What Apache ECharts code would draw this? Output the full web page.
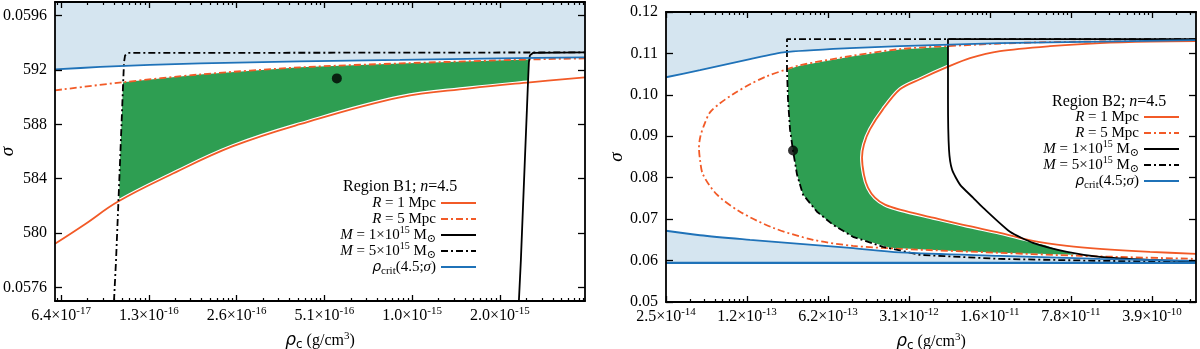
<!DOCTYPE html>
<html><head><meta charset="utf-8">
<script src="https://cdn.jsdelivr.net/npm/echarts@6/dist/echarts.min.js"></script>
<style>html,body{margin:0;padding:0;background:#fff}#c{width:1200px;height:349px}</style>
</head><body><div id="c"></div>
<script>
// ================= Panel B1 (left) =================
const b1XRange = [6.10e-17, 4.01e-15];
const b1YRange = [0.0575, 0.0597];
const b1XTickValues = [6.4e-17, 1.28e-16, 2.56e-16, 5.12e-16, 1.024e-15, 2.048e-15];
const b1XTickLabels = ['6.4×10{sup|-17}', '1.3×10{sup|-16}', '2.6×10{sup|-16}', '5.1×10{sup|-16}', '1.0×10{sup|-15}', '2.0×10{sup|-15}'];
const b1YTickValues = [0.0576, 0.0580, 0.0584, 0.0588, 0.0592, 0.0596];
const b1YTickLabels = ['0.0576', '580', '584', '588', '592', '0.0596'];

const b1CritRho   = [6.10e-17, 8.71e-17, 1.29e-16, 1.92e-16, 4.22e-16, 9.30e-16, 2.05e-15, 4.01e-15];
const b1CritSigma = [0.059204, 0.059222, 0.059237, 0.059248, 0.059263, 0.059274, 0.059285, 0.059292];

const b1R5Rho   = [6.10e-17, 1.036e-16, 1.92e-16, 4.22e-16, 9.30e-16, 2.595e-15, 4.01e-15];
const b1R5Sigma = [0.059050, 0.059109, 0.059167, 0.059219, 0.059248, 0.059277, 0.059285];

const b1R1Rho   = [6.10e-17, 7.73e-17, 1.004e-16, 1.513e-16, 2.488e-16, 4.22e-16, 9.30e-16, 1.616e-15, 2.595e-15, 4.01e-15];
const b1R1Sigma = [0.057921, 0.058065, 0.058232, 0.058427, 0.058639, 0.058801, 0.058999, 0.059065, 0.059109, 0.059145];

const b1M5Rho   = [9.72e-17, 9.88e-17, 1.004e-16, 1.020e-16, 1.036e-16, 1.044e-16, 1.052e-16, 1.061e-16, 1.086e-16, 4.01e-15];
const b1M5Sigma = [0.05750, 0.057803, 0.058170, 0.058537, 0.058903, 0.059087, 0.059255, 0.059307, 0.059325, 0.059329];

const b1M1Rho   = [2.379e-15, 2.417e-15, 2.455e-15, 2.494e-15, 2.534e-15, 2.554e-15, 2.574e-15, 2.595e-15, 2.657e-15, 4.01e-15];
const b1M1Sigma = [0.05750, 0.057803, 0.058170, 0.058537, 0.058903, 0.059087, 0.059255, 0.059307, 0.059325, 0.059329];

const b1GreenRho   = [1.044e-16, 1.917e-16, 4.222e-16, 9.298e-16, 2.574e-15, 2.554e-15, 1.616e-15, 9.298e-16, 4.222e-16, 2.488e-16, 1.513e-16, 1.012e-16, 1.020e-16, 1.036e-16];
const b1GreenSigma = [0.059109, 0.059167, 0.059219, 0.059248, 0.059277, 0.059109, 0.059065, 0.058999, 0.058801, 0.058639, 0.058427, 0.058243, 0.058537, 0.058903];

const b1PointRho = [5.65e-16];
const b1PointSigma = [0.059138];

// ================= Panel B2 (right) =================
const b2XRange = [2.5e-14, 9.37e-10];
const b2YRange = [0.05, 0.12];
const b2XTickValues = [2.5e-14, 1.25e-13, 6.25e-13, 3.125e-12, 1.5625e-11, 7.8125e-11, 3.90625e-10];
const b2XTickLabels = ['2.5×10{sup|-14}', '1.2×10{sup|-13}', '6.2×10{sup|-13}', '3.1×10{sup|-12}', '1.6×10{sup|-11}', '7.8×10{sup|-11}', '3.9×10{sup|-10}'];
const b2YTickValues = [0.05, 0.06, 0.07, 0.08, 0.09, 0.10, 0.11, 0.12];
const b2YTickLabels = ['0.05', '0.06', '0.07', '0.08', '0.09', '0.10', '0.11', '0.12'];

const b2CritUpperRho   = [2.5e-14, 4.91e-14, 1.327e-13, 2.66e-13, 9.68e-13, 2.61e-12, 1.91e-11, 1.39e-10, 9.37e-10];
const b2CritUpperSigma = [0.10425, 0.10595, 0.10861, 0.11031, 0.11128, 0.11176, 0.11249, 0.11285, 0.11322];

const b2CritLowerRho   = [2.5e-14, 4.91e-14, 1.327e-13, 3.58e-13, 9.68e-13, 2.61e-12, 1.91e-11, 1.39e-10, 9.37e-10];
const b2CritLowerSigma = [0.06720, 0.06611, 0.06502, 0.06405, 0.06308, 0.06199, 0.06114, 0.06041, 0.05993];

const b2CritFloorRho   = [2.5e-14, 9.37e-10];
const b2CritFloorSigma = [0.05945, 0.05945];

const b2R5Rho   = [9.37e-10, 5.15e-11, 1.907e-11, 6.65e-12, 2.614e-12, 9.68e-13, 3.584e-13, 2.767e-13, 1.861e-13, 1.327e-13, 9.465e-14, 7.31e-14, 5.992e-14, 5.36e-14, 4.95e-14, 4.815e-14, 4.912e-14, 5.215e-14, 6.887e-14, 1.0875e-13, 2.096e-13, 4.64e-13, 1.0273e-12, 2.614e-12, 1.907e-11, 9.347e-11, 9.37e-10];
const b2R5Sigma = [0.11310, 0.11273, 0.11237, 0.11176, 0.11104, 0.10934, 0.10716, 0.10619, 0.10450, 0.10256, 0.10014, 0.09796, 0.09578, 0.09287, 0.08996, 0.08730, 0.08439, 0.08076, 0.07592, 0.07180, 0.06792, 0.06502, 0.06356, 0.06284, 0.06187, 0.06114, 0.06041];

const b2R1Rho   = [9.37e-10, 3.756e-10, 1.39e-10, 5.15e-11, 1.907e-11, 1.0505e-11, 6.65e-12, 3.89e-12, 2.614e-12, 1.865e-12, 1.44e-12, 1.278e-12, 1.229e-12, 1.278e-12, 1.384e-12, 1.59e-12, 1.94e-12, 2.614e-12, 5.036e-12, 9.897e-12, 1.907e-11, 3.674e-11, 7.219e-11, 1.39e-10, 3.756e-10, 9.37e-10];
const b2R1Sigma = [0.11297, 0.11285, 0.11249, 0.11176, 0.11055, 0.10886, 0.10668, 0.10377, 0.10135, 0.09650, 0.09166, 0.08803, 0.08488, 0.08076, 0.07761, 0.07519, 0.07349, 0.07228, 0.07035, 0.06841, 0.06671, 0.06477, 0.06356, 0.06284, 0.06211, 0.06163];

const b2M5Rho   = [9.37e-10, 2.767e-13, 2.767e-13, 2.822e-13, 2.938e-13, 3.118e-13, 3.377e-13, 3.803e-13, 5.023e-13, 6.903e-13, 1.0273e-12, 1.865e-12, 3.89e-12, 1.907e-11, 1.39e-10, 9.37e-10];
const b2M5Sigma = [0.11346, 0.11346, 0.10619, 0.09893, 0.09166, 0.08657, 0.08076, 0.07592, 0.07180, 0.06865, 0.06574, 0.06332, 0.06138, 0.06041, 0.05993, 0.05969];

const b2M1Rho   = [9.37e-10, 6.783e-12, 6.783e-12, 6.92e-12, 7.35e-12, 8.61e-12, 1.115e-11, 1.36e-11, 2.326e-11, 3.674e-11, 7.219e-11, 1.39e-10, 3.756e-10, 9.37e-10];
const b2M1Sigma = [0.11346, 0.11346, 0.09893, 0.08682, 0.08197, 0.07834, 0.07519, 0.07277, 0.06695, 0.06429, 0.06211, 0.06090, 0.06017, 0.05981];

const b2GreenRho   = [2.822e-13, 3.584e-13, 9.678e-13, 2.614e-12, 6.65e-12, 6.783e-12, 6.783e-12, 3.89e-12, 2.614e-12, 1.865e-12, 1.44e-12, 1.278e-12, 1.229e-12, 1.278e-12, 1.384e-12, 1.59e-12, 1.94e-12, 2.614e-12, 5.036e-12, 9.897e-12, 1.907e-11, 3.674e-11, 5.689e-11, 8.464e-11, 1.907e-11, 7.059e-12, 2.143e-12, 1.0273e-12, 6.903e-13, 5.023e-13, 3.803e-13, 3.377e-13, 3.118e-13, 2.938e-13, 2.822e-13];
const b2GreenSigma = [0.10619, 0.10704, 0.10922, 0.11092, 0.11164, 0.11164, 0.10668, 0.10377, 0.10135, 0.09650, 0.09166, 0.08803, 0.08488, 0.08076, 0.07761, 0.07519, 0.07349, 0.07228, 0.07035, 0.06841, 0.06671, 0.06477, 0.06284, 0.06138, 0.06187, 0.06235, 0.06308, 0.06574, 0.06865, 0.07180, 0.07592, 0.08076, 0.08657, 0.09166, 0.09893];

const b2PointRho = [3.12e-13];
const b2PointSigma = [0.08657];

// ================= legend =================
const legendNames = ['R1', 'R5', 'M1', 'M5', 'crit'];
const legendLabels = {
  R1: '{i|R} = 1 Mpc',
  R5: '{i|R} = 5 Mpc',
  M1: '{i|M} = 1×10{sup|15} M{sub|⊙}',
  M5: '{i|M} = 5×10{sup|15} M{sub|⊙}',
  crit: '{g|ρ}{sub|crit}(4.5;{i|σ})'
};
const panelTitles = ['{t|Region B1; }{i|n}{t|=4.5}', '{t|Region B2; }{i|n}{t|=4.5}'];

// ================= styling =================
const F = "'Liberation Serif', 'DejaVu Serif', serif";
const RED = '#f25a27', BLUE = '#1f72b8', BLUEFILL = '#d5e5f0', GREEN = '#2e9e52', BLACK = '#000';
const DASHDOT = [7, 3, 2, 3];

const L = Math.log10;
const zip = (r, s) => r.map((v, i) => [L(v), s[i]]);

function minorTicks(majLog, min, max) {
  const fr = [2, 3, 4, 5, 6, 7, 8, 9].map(n => Math.log10(n));
  const step = majLog[1] - majLog[0];
  const out = [];
  for (let k = -2; k < majLog.length + 1; k++) {
    const base = majLog[0] + k * step;
    fr.forEach(f => { const v = base + f * step; if (v > min && v < max) out.push(v); });
  }
  return out;
}

const supRich = {
  sup: { fontSize: 11, fontFamily: F, color: '#000', verticalAlign: 'top', lineHeight: 10 }
};

function buildAxes(g, xr, yr, xt, xl, yt, yl, yNameGap) {
  const xmin = L(xr[0]), xmax = L(xr[1]);
  const xtl = xt.map(L);
  const minors = minorTicks(xtl, xmin, xmax);
  const axLine = { show: true, onZero: false, lineStyle: { color: BLACK, width: 1.8 } };
  const common = { gridIndex: g, type: 'value', min: xmin, max: xmax, splitLine: { show: false }, z: 10 };
  const xAxes = [
    Object.assign({}, common, {
      position: 'bottom', axisLine: axLine,
      axisTick: { show: true, inside: true, length: 6, lineStyle: { color: BLACK, width: 1.3 }, customValues: xtl },
      axisLabel: {
        show: true, customValues: xtl, margin: 5, fontSize: 16, lineHeight: 20, fontFamily: F, color: '#000',
        rich: supRich,
        formatter: v => { const i = xtl.findIndex(t => Math.abs(t - v) < 1e-7); return i >= 0 ? xl[i] : ''; }
      },
      name: '{g|ρ}{sub|c} (g/cm{sup|3})', nameLocation: 'middle', nameGap: 30, nameMoveOverlap: false,
      nameTextStyle: {
        fontSize: 16, fontFamily: F, color: '#000', lineHeight: 20,
        rich: {
          g: { fontFamily: "'DejaVu Sans'", fontStyle: 'italic', fontSize: 17 },
          sub: { fontSize: 12, fontFamily: "'DejaVu Sans'", verticalAlign: 'bottom', lineHeight: 12 },
          sup: { fontSize: 11, fontFamily: F, verticalAlign: 'top', lineHeight: 10 }
        }
      }
    }),
    Object.assign({}, common, {
      position: 'bottom', axisLine: { show: false },
      axisTick: { show: true, inside: true, length: 3, lineStyle: { color: BLACK, width: 1.2 }, customValues: minors },
      axisLabel: { show: false }
    }),
    Object.assign({}, common, {
      position: 'top', axisLine: axLine,
      axisTick: { show: true, inside: true, length: 6, lineStyle: { color: BLACK, width: 1.3 }, customValues: xtl },
      axisLabel: { show: false }
    }),
    Object.assign({}, common, {
      position: 'top', axisLine: { show: false },
      axisTick: { show: true, inside: true, length: 3, lineStyle: { color: BLACK, width: 1.2 }, customValues: minors },
      axisLabel: { show: false }
    })
  ];
  const ycommon = { gridIndex: g, type: 'value', min: yr[0], max: yr[1], splitLine: { show: false }, z: 10 };
  const yAxes = [
    Object.assign({}, ycommon, {
      position: 'left', axisLine: axLine,
      axisTick: { show: true, inside: true, length: 7, lineStyle: { color: BLACK, width: 1.3 }, customValues: yt },
      axisLabel: {
        show: true, customValues: yt, margin: 8, fontSize: 16, fontFamily: F, color: '#000',
        formatter: v => { const i = yt.findIndex(t => Math.abs(t - v) < 1e-9); return i >= 0 ? yl[i] : ''; }
      },
      name: 'σ', nameLocation: 'middle', nameGap: yNameGap, nameRotate: 90, nameMoveOverlap: false,
      nameTextStyle: { fontSize: 19, fontFamily: F, fontStyle: 'italic', color: '#000' }
    }),
    Object.assign({}, ycommon, {
      position: 'right', axisLine: axLine,
      axisTick: { show: true, inside: true, length: 7, lineStyle: { color: BLACK, width: 1.3 }, customValues: yt },
      axisLabel: { show: false }
    })
  ];
  return { xAxes, yAxes };
}

function poly(g, pts, color) {
  return {
    type: 'custom', xAxisIndex: 4 * g, yAxisIndex: 2 * g, silent: true, z: 1, clip: true,
    data: pts,
    renderItem: (params, api) => {
      if (params.dataIndex !== 0) return null;
      return { type: 'polygon', shape: { points: pts.map(p => api.coord(p)) }, style: { fill: color, stroke: null } };
    }
  };
}
function line(name, g, data, color, width, dash, z, smooth) {
  return {
    type: 'line', name, xAxisIndex: 4 * g, yAxisIndex: 2 * g, data, symbol: 'none', showSymbol: false,
    smooth: smooth || false, clip: true, silent: true, z,
    lineStyle: { color, width, type: dash || 'solid' }, itemStyle: { color }
  };
}

const axesB1 = buildAxes(0, b1XRange, b1YRange, b1XTickValues, b1XTickLabels, b1YTickValues, b1YTickLabels, 38);
const axesB2 = buildAxes(1, b2XRange, b2YRange, b2XTickValues, b2XTickLabels, b2YTickValues, b2YTickLabels, 40);

// polygons
const b1Crit = zip(b1CritRho, b1CritSigma);
const b1BlueFill = b1Crit.concat([[L(b1XRange[1]), b1YRange[1]], [L(b1XRange[0]), b1YRange[1]]]);
const b2CritU = zip(b2CritUpperRho, b2CritUpperSigma);
const b2BlueTop = b2CritU.concat([[L(b2XRange[1]), b2YRange[1]], [L(b2XRange[0]), b2YRange[1]]]);
const b2CritL = zip(b2CritLowerRho, b2CritLowerSigma);
const b2Floor = zip(b2CritFloorRho, b2CritFloorSigma);
const b2BlueBottom = b2CritL.concat(b2Floor.slice().reverse());

const series = [
  // ---- B1 ----
  poly(0, b1BlueFill, BLUEFILL),
  poly(0, zip(b1GreenRho, b1GreenSigma), GREEN),
  line('haloR1a', 0, zip(b1R1Rho, b1R1Sigma), '#fff', 4, 'solid', 2, 0.4),
  line('R1', 0, zip(b1R1Rho, b1R1Sigma), RED, 1.8, 'solid', 3, 0.4),
  line('R5', 0, zip(b1R5Rho, b1R5Sigma), RED, 1.8, DASHDOT, 3, 0.3),
  line('M5', 0, zip(b1M5Rho, b1M5Sigma), BLACK, 1.8, DASHDOT, 3),
  line('M1', 0, zip(b1M1Rho, b1M1Sigma), BLACK, 1.8, 'solid', 3),
  line('crit', 0, b1Crit, BLUE, 1.8, 'solid', 3, 0.3),
  { type: 'scatter', xAxisIndex: 0, yAxisIndex: 0, data: zip(b1PointRho, b1PointSigma), symbolSize: 10, itemStyle: { color: BLACK }, z: 6, silent: true },
  // ---- B2 ----
  poly(1, b2BlueTop, BLUEFILL),
  poly(1, b2BlueBottom, BLUEFILL),
  poly(1, zip(b2GreenRho, b2GreenSigma), GREEN),
  line('haloR1b', 1, zip(b2R1Rho, b2R1Sigma), '#fff', 4, 'solid', 2, 0.3),
  line('R1', 1, zip(b2R1Rho, b2R1Sigma), RED, 1.8, 'solid', 3, 0.3),
  line('R5', 1, zip(b2R5Rho, b2R5Sigma), RED, 1.8, DASHDOT, 3, 0.3),
  line('M5', 1, zip(b2M5Rho, b2M5Sigma), BLACK, 1.8, DASHDOT, 3),
  line('M1', 1, zip(b2M1Rho, b2M1Sigma), BLACK, 1.8, 'solid', 3, 0.2),
  line('crit', 1, b2CritU, BLUE, 1.8, 'solid', 3, 0.2),
  line('crit', 1, b2CritL, BLUE, 1.8, 'solid', 3, 0.3),
  line('crit', 1, b2Floor, BLUE, 2.4, 'solid', 3),
  { type: 'scatter', xAxisIndex: 4, yAxisIndex: 2, data: zip(b2PointRho, b2PointSigma), symbolSize: 10, itemStyle: { color: BLACK }, z: 6, silent: true }
];

const legendRich = {
  i: { fontStyle: 'italic', fontFamily: F, fontSize: 15, color: '#000' },
  g: { fontStyle: 'italic', fontFamily: "'DejaVu Sans'", fontSize: 14, color: '#000' },
  sup: { fontSize: 10, fontFamily: F, color: '#000', verticalAlign: 'top', lineHeight: 10 },
  sub: { fontSize: 11, fontFamily: F, color: '#000', verticalAlign: 'bottom', lineHeight: 11 }
};
function legend(right, top) {
  return {
    data: legendNames, orient: 'vertical', align: 'right', right, top, padding: 0,
    itemWidth: 35, itemHeight: 12, itemGap: -4, selectedMode: false,
    itemStyle: { opacity: 0 },
    formatter: n => legendLabels[n],
    textStyle: { fontSize: 15, fontFamily: F, color: '#000', lineHeight: 20, rich: legendRich }
  };
}
const titleRich = {
  t: { fontSize: 16, fontFamily: F, color: '#000', fontWeight: 'normal' },
  i: { fontSize: 16, fontFamily: F, fontStyle: 'italic', color: '#000', fontWeight: 'normal' }
};

const option = {
  animation: false,
  backgroundColor: '#fff',
  grid: [
    { left: 55, right: 615, top: 2, bottom: 48, outerBoundsMode: 'none', containLabel: false },
    { left: 666, right: 4, top: 12, bottom: 47, outerBoundsMode: 'none', containLabel: false }
  ],
  xAxis: axesB1.xAxes.concat(axesB2.xAxes),
  yAxis: axesB1.yAxes.concat(axesB2.yAxes),
  title: [
    { text: panelTitles[0], left: 343, top: 179, padding: 0, textStyle: { fontWeight: 'normal', rich: titleRich } },
    { text: panelTitles[1], left: 1052, top: 94, padding: 0, textStyle: { fontWeight: 'normal', rich: titleRich } }
  ],
  legend: [legend(723, 193), legend(20, 107)],
  series
};
const chart = echarts.init(document.getElementById('c'), null, { renderer: 'canvas' });
chart.setOption(option);
</script></body></html>
